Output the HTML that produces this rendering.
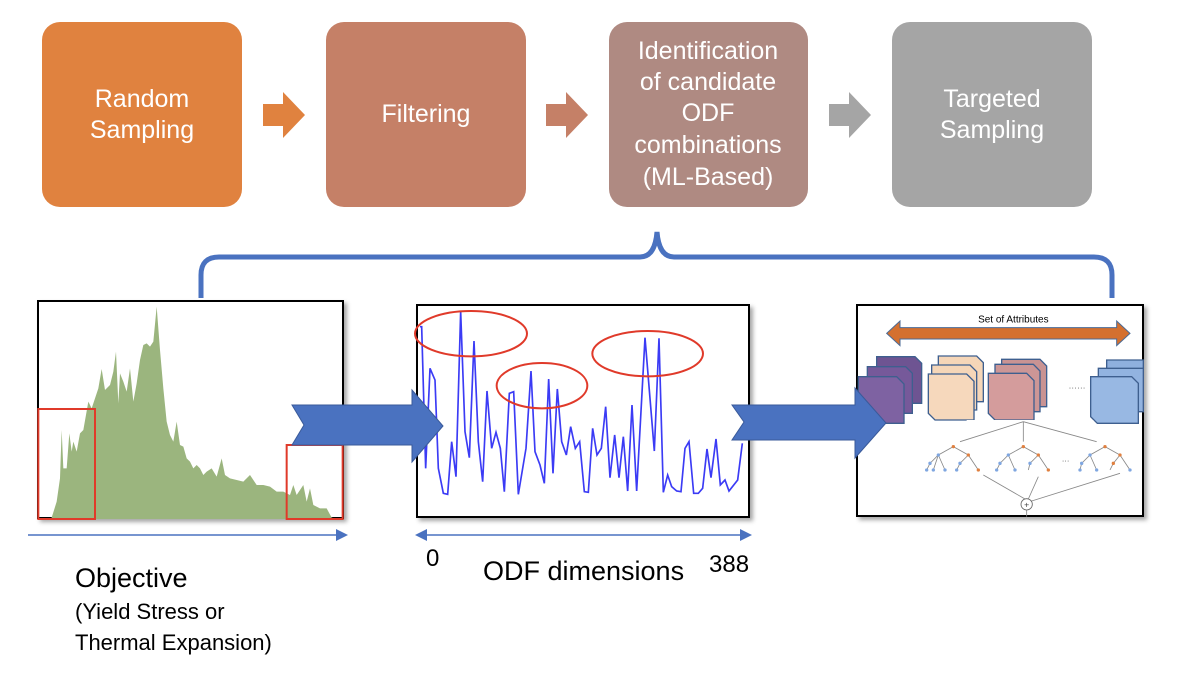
<!DOCTYPE html><html><head><style>body{margin:0;background:#fff}svg{display:block}</style></head><body>
<svg width="1184" height="680" viewBox="0 0 1184 680" font-family="Liberation Sans, sans-serif">
<defs><filter id="sh" x="-5%" y="-5%" width="115%" height="115%"><feDropShadow dx="3" dy="3" stdDeviation="2" flood-opacity="0.35"/></filter></defs>
<rect x="42" y="22" width="200" height="185" rx="18" fill="#E0823F"/>
<rect x="326" y="22" width="200" height="185" rx="18" fill="#C58067"/>
<rect x="609" y="22" width="199" height="185" rx="18" fill="#AF8A82"/>
<rect x="892" y="22" width="200" height="185" rx="18" fill="#A5A5A5"/>
<g fill="#fff" font-size="25" text-anchor="middle">
<text x="142" y="107">Random</text><text x="142" y="138">Sampling</text>
<text x="426" y="122">Filtering</text>
<text x="708" y="59">Identification</text><text x="708" y="90">of candidate</text><text x="708" y="121">ODF</text><text x="708" y="153">combinations</text><text x="708" y="185">(ML-Based)</text>
<text x="992" y="107">Targeted</text><text x="992" y="138">Sampling</text>
</g>
<polygon points="263,104 283,104 283,92 305,115 283,138 283,126 263,126" fill="#E0823F"/>
<polygon points="546,104 566,104 566,92 588,115 566,138 566,126 546,126" fill="#C58067"/>
<polygon points="829,104 849,104 849,92 871,115 849,138 849,126 829,126" fill="#A5A5A5"/>
<path d="M201,298 L201,275 Q201,257 219,257 L640,257 Q655,257 657,232 Q659,257 674,257 L1094,257 Q1112,257 1112,275 L1112,298" fill="none" stroke="#4A72C0" stroke-width="5"/>
<rect x="38" y="301" width="305" height="217" fill="#fff" stroke="#000" stroke-width="2" filter="url(#sh)"/>
<g transform="translate(30,295) scale(0.33333)">
<polygon fill="#9BB57E" points="60,672 65,668 80,620 90,550 95,405 100,520 110,520 118,415 125,470 130,440 140,470 150,415 160,405 175,320 185,340 195,310 205,280 215,222 225,285 240,270 250,230 258,170 265,325 270,235 280,260 290,290 300,220 310,320 320,265 330,195 340,150 350,145 360,155 370,140 380,35 390,165 400,280 410,380 420,420 430,440 440,380 450,450 460,455 470,490 480,500 490,520 500,510 510,520 520,540 530,530 545,520 560,545 575,490 585,540 600,550 620,555 640,560 660,540 680,570 700,570 720,575 740,590 760,590 780,600 790,570 800,600 820,570 830,620 840,580 850,630 870,640 890,640 905,668 920,672"/>
<rect x="25" y="342" width="170" height="330" fill="none" stroke="#E03A2A" stroke-width="6"/>
<rect x="770" y="450" width="168" height="222" fill="none" stroke="#E03A2A" stroke-width="6"/>
</g>
<line x1="28" y1="535" x2="338" y2="535" stroke="#4A72C0" stroke-width="1.5"/>
<polygon points="348,535 336,529 336,541" fill="#4A72C0"/>
<rect x="417" y="305" width="332" height="212" fill="#fff" stroke="#000" stroke-width="2" filter="url(#sh)"/>
<g transform="translate(405,295) scale(0.33333)" fill="none">
<polyline stroke="#3B3BF5" stroke-width="5" points="45,95 50,95 62,520 75,220 90,255 100,520 115,595 128,598 140,440 153,545 167,50 180,410 193,488 207,138 220,440 233,560 246,288 260,460 273,412 286,460 298,590 313,295 326,290 340,598 363,460 378,228 390,470 405,510 418,565 431,252 444,535 457,282 470,440 484,480 497,395 511,460 524,440 538,590 550,592 563,400 576,480 589,460 602,335 615,548 629,420 642,548 655,425 668,588 681,330 695,588 720,128 748,468 762,130 775,592 788,540 800,575 815,588 828,590 840,460 852,440 866,595 880,595 893,580 906,462 918,548 933,432 946,570 960,555 972,588 998,555 1012,445"/>
<g stroke="#E03A2A" stroke-width="6"><ellipse cx="198" cy="116" rx="168" ry="68"/><ellipse cx="411" cy="272" rx="136" ry="68"/><ellipse cx="728" cy="176" rx="166" ry="68"/></g>
</g>
<line x1="425" y1="535" x2="745" y2="535" stroke="#4A72C0" stroke-width="1.5"/>
<polygon points="415,535 427,529 427,541" fill="#4A72C0"/><polygon points="752,535 740,529 740,541" fill="#4A72C0"/>
<rect x="857" y="305" width="286" height="211" fill="#fff" stroke="#000" stroke-width="2" filter="url(#sh)"/>
<g transform="translate(850,295) scale(0.33333)">
<polygon points="110,115 150,78 150,98 800,98 800,78 840,115 800,152 800,132 150,132 150,152" fill="#D4702F" stroke="#4A6A95" stroke-width="3"/>
<text x="490" y="82" font-size="30" text-anchor="middle" fill="#000">Set of Attributes</text>
<g stroke="#3E5F8F" stroke-width="4">
<path d="M80,185 H195 L215,205 V325 H100 L80,305Z" fill="#6E5492"/>
<path d="M52,215 H167 L187,235 V355 H72 L52,335Z" fill="#76599A"/>
<path d="M25,245 H140 L162,267 V385 H45 L25,365Z" fill="#7E62A2"/>
<path d="M265,183 H380 L400,203 V320 H285 L265,300Z" fill="#F5D6B8"/>
<path d="M245,210 H360 L380,230 V345 H265 L245,325Z" fill="#F5D6B8"/>
<path d="M235,237 H350 L372,259 V375 H255 L235,355Z" fill="#F6D8BC"/>
<path d="M455,193 H570 L590,213 V335 H475 L455,315Z" fill="#C99393"/>
<path d="M435,208 H550 L570,228 V350 H455 L435,330Z" fill="#CC9696"/>
<path d="M415,235 H530 L552,257 V375 H435 L415,355Z" fill="#D49C9C"/>
<path d="M770,195 H880 V320 H770Z" fill="#8FB0DE"/>
<path d="M745,220 H880 V350 H745Z" fill="#92B3E0"/>
<path d="M722,245 H845 L865,265 V385 H742 L722,365Z" fill="#98B8E3"/>
</g>
<text x="655" y="280" font-size="26" fill="#555">…… </text>
<rect x="350" y="375" width="380" height="30" fill="#fff"/>
<g stroke="#888" stroke-width="2.5" fill="none">
<path d="M520,380 L330,440 M520,380 L520,440 M520,380 L740,440 M400,540 L525,612 M565,545 L535,612 M810,535 L545,618 M530,645 V665"/>
<path d="M310,455 L265,480 L240,505 L230,525 M265,480 L285,525 M310,455 L355,480 L330,505 L320,525 M355,480 L385,525 M265,480 L250,525"/>
<path d="M520,455 L475,480 L450,505 L440,525 M475,480 L495,525 M520,455 L565,480 L540,505 L535,525 M565,480 L595,525"/>
<path d="M765,455 L720,480 L695,505 L690,525 M720,480 L740,525 M765,455 L810,480 L790,505 L780,525 M810,480 L840,525"/>
</g>
<g fill="#7FA6E0"><circle cx="265" cy="480" r="5"/><circle cx="240" cy="505" r="5"/><circle cx="230" cy="525" r="5"/><circle cx="250" cy="525" r="5"/><circle cx="285" cy="525" r="5"/><circle cx="330" cy="505" r="5"/><circle cx="320" cy="525" r="5"/><circle cx="475" cy="480" r="5"/><circle cx="450" cy="505" r="5"/><circle cx="440" cy="525" r="5"/><circle cx="495" cy="525" r="5"/><circle cx="540" cy="505" r="5"/><circle cx="720" cy="480" r="5"/><circle cx="695" cy="505" r="5"/><circle cx="690" cy="525" r="5"/><circle cx="740" cy="525" r="5"/><circle cx="840" cy="525" r="5"/></g>
<g fill="#E08040"><circle cx="310" cy="455" r="5"/><circle cx="355" cy="480" r="5"/><circle cx="385" cy="525" r="5"/><circle cx="520" cy="455" r="5"/><circle cx="565" cy="480" r="5"/><circle cx="595" cy="525" r="5"/><circle cx="765" cy="455" r="5"/><circle cx="810" cy="480" r="5"/><circle cx="790" cy="505" r="5"/></g>
<text x="635" y="500" font-size="24" fill="#555">…</text>
<circle cx="530" cy="628" r="17" fill="#fff" stroke="#666" stroke-width="2.5"/>
<text x="530" y="637" font-size="26" text-anchor="middle" fill="#444">+</text>
</g>
<polygon points="292,405 412,405 412,390 443,426 412,462 412,445 292,445 304,425" fill="#4A72C0" stroke="#3A5A9A" stroke-width="1"/>
<polygon points="732,405 855,405 855,388 886,423 855,458 855,440 732,440 744,422" fill="#4A72C0" stroke="#3A5A9A" stroke-width="1"/>
<text x="75" y="587" font-size="27" fill="#000">Objective</text>
<text x="75" y="619" font-size="22" fill="#000">(Yield Stress or</text>
<text x="75" y="650" font-size="22" fill="#000">Thermal Expansion)</text>
<text x="426" y="566" font-size="24" fill="#000">0</text>
<text x="483" y="580" font-size="27" fill="#000">ODF dimensions</text>
<text x="709" y="572" font-size="24" fill="#000">388</text>
</svg>
</body></html>
